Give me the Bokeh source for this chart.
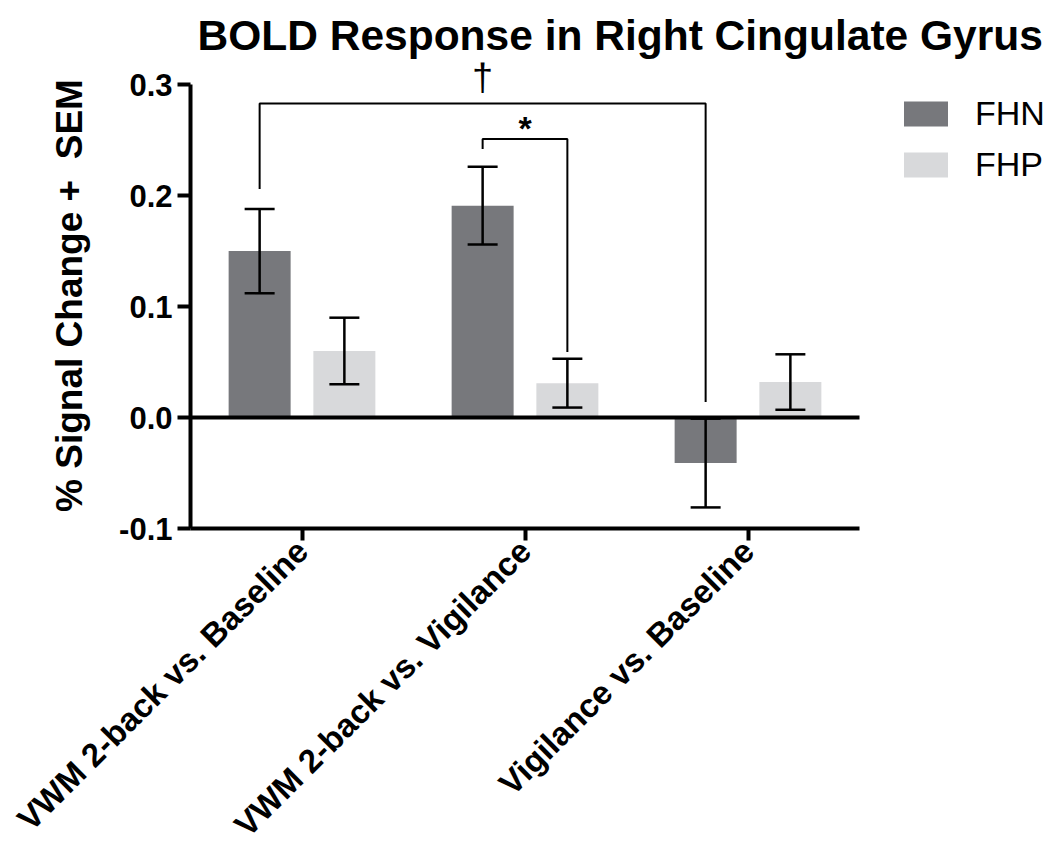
import math
import numpy as np
from bokeh.plotting import figure
from bokeh.models import (Range1d, FixedTicker, ColumnDataSource, Whisker, TeeHead,
                          Legend, LegendItem, Label, PrintfTickFormatter)
from bokeh.embed import file_html
from bokeh.resources import INLINE

# ---------------- data ----------------
categories = ["VWM 2-back vs. Baseline", "VWM 2-back vs. Vigilance", "Vigilance vs. Baseline"]
groups = ["FHN", "FHP"]
fhn_mean = [0.150, 0.191, -0.041]
fhn_sem = [0.038, 0.035, 0.040]
fhp_mean = [0.060, 0.031, 0.032]
fhp_sem = [0.030, 0.022, 0.025]
colors = ["#77787c", "#d8d9db"]
y_ticks = [-0.1, 0.0, 0.1, 0.2, 0.3]

# significance brackets: (group a, series a, group b, series b, top, left end, right end, symbol)
brackets = [
    (0, 0, 2, 0, 0.283, 0.206, 0.014, "\u2020"),
    (1, 0, 1, 1, 0.251, 0.242, 0.059, "*"),
]

FONT = "Liberation Sans"

n = len(categories)
centers = np.arange(n) + 0.5
offsets = [-0.19, 0.19]
bar_w = 0.278

# frame spans x 190..1050 px; one category = 223 px
FRAME_W = 860
CAT_PX = 223
x_end = FRAME_W / CAT_PX

p = figure(width=1050, height=861, x_range=Range1d(0, x_end), y_range=Range1d(-0.1, 0.32),
           output_backend="svg", toolbar_location=None,
           min_border_left=190, min_border_right=0, min_border_top=62, min_border_bottom=333)
p.outline_line_color = None
p.xgrid.visible = False
p.ygrid.visible = False
p.background_fill_color = "white"
p.border_fill_color = "white"

means = [fhn_mean, fhp_mean]
sems = [fhn_sem, fhp_sem]
renderers = []
for i, g in enumerate(groups):
    xs = centers + offsets[i]
    m = np.array(means[i])
    s = np.array(sems[i])
    src = ColumnDataSource(dict(x=xs, top=m, upper=m + s, lower=m - s))
    r = p.vbar(x="x", top="top", bottom=0, width=bar_w, source=src,
               fill_color=colors[i], line_color=None)
    renderers.append(r)
    w = Whisker(base="x", upper="upper", lower="lower", source=src, level="annotation",
                line_color="black", line_width=2.5,
                upper_head=TeeHead(size=30, line_color="black", line_width=2.5),
                lower_head=TeeHead(size=30, line_color="black", line_width=2.5))
    p.add_layout(w)

# zero line across the category area
zl = p.line(x=[0, n], y=[0, 0], line_color="black", line_width=4)
zl.level = "overlay"

# significance brackets
for ga, sa, gb, sb, top, lend, rend, sym in brackets:
    xa = centers[ga] + offsets[sa]
    xb = centers[gb] + offsets[sb]
    p.multi_line(xs=[[xa, xa, xb, xb]], ys=[[lend, top, top, rend]],
                 line_color="black", line_width=2)
    if sym == "\u2020":
        fs, style, yo = "38px", "normal", 27
    else:
        fs, style, yo = "34px", "bold", 11
    p.add_layout(Label(x=(xa + xb) / 2, y=top, text=sym, text_align="center",
                       text_baseline="middle", text_font=FONT, text_font_size=fs,
                       text_font_style=style, text_color="black", y_offset=yo))

# axes
yax = p.yaxis[0]
yax.ticker = FixedTicker(ticks=y_ticks)
yax.bounds = (-0.1, 0.3)
yax.formatter = PrintfTickFormatter(format="%.1f")
yax.axis_line_width = 4
yax.major_tick_line_width = 4
yax.major_tick_out = 13
yax.major_tick_in = 0
yax.minor_tick_line_color = None
yax.major_label_text_font = FONT
yax.major_label_text_font_size = "31px"
yax.major_label_text_font_style = "bold"
yax.major_label_text_color = "black"
yax.major_label_standoff = 5
yax.axis_label = "% Signal Change +\u00a0 SEM"
yax.axis_label_text_font = FONT
yax.axis_label_text_font_size = "37px"
yax.axis_label_text_font_style = "bold"
yax.axis_label_text_color = "black"
yax.axis_label_standoff = 26

xax = p.xaxis[0]
xax.ticker = FixedTicker(ticks=list(centers))
xax.bounds = (0, n)
xax.major_label_overrides = {float(c): categories[i] for i, c in enumerate(centers)}
xax.major_label_orientation = math.pi / 4
xax.axis_line_width = 4
xax.major_tick_line_width = 4
xax.major_tick_out = 12
xax.major_tick_in = 0
xax.minor_tick_line_color = None
xax.major_label_text_font = FONT
xax.major_label_text_font_size = "33px"
xax.major_label_text_font_style = "bold"
xax.major_label_text_color = "black"
xax.major_label_standoff = 5

# title
p.title.text = "BOLD Response in Right Cingulate Gyrus"
p.title.text_font = FONT
p.title.text_font_size = "42.5px"
p.title.text_font_style = "bold"
p.title.text_color = "black"
p.title.align = "left"
p.title.offset = 7
p.title.standoff = 4
p.title.vertical_align = "top"

# legend (inside the wide frame, to the right of the axes)
legend = Legend(items=[LegendItem(label=g, renderers=[renderers[i]]) for i, g in enumerate(groups)],
                location=(708, 344), glyph_width=55, glyph_height=31, label_standoff=22,
                label_text_font=FONT, label_text_font_size="34px", label_text_color="black",
                spacing=12, padding=0, margin=0, border_line_color=None,
                background_fill_alpha=0)
p.add_layout(legend, "center")

open("out.html", "w").write(file_html(p, INLINE))
